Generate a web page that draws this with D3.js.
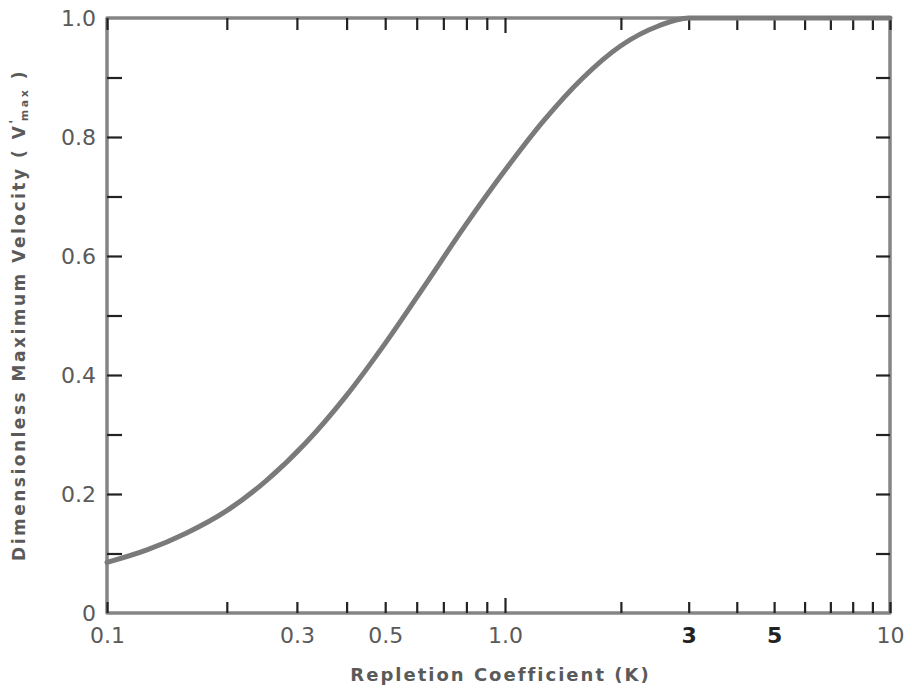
<!DOCTYPE html>
<html>
<head>
<meta charset="utf-8">
<script src="https://cdn.jsdelivr.net/npm/d3@7"></script>
<style>
  html, body { margin: 0; padding: 0; background: #fff; }
  svg { display: block; }
</style>
</head>
<body>
<svg id="chart" width="912" height="695"></svg>
<script>
// ---- data ----
const kValues = [0.1, 0.126, 0.158, 0.2, 0.251, 0.316, 0.398, 0.501, 0.631, 0.794, 1.0, 1.259, 1.585, 1.995, 2.512, 3.0, 5.0, 10];
const vValues = [0.085, 0.106, 0.134, 0.172, 0.222, 0.286, 0.364, 0.454, 0.552, 0.651, 0.744, 0.827, 0.898, 0.953, 0.987, 1.0, 1.0, 1.0];

const xTickValues = [0.1, 0.2, 0.3, 0.4, 0.5, 0.6, 0.7, 0.8, 0.9, 1, 2, 3, 4, 5, 6, 7, 8, 9, 10];
const xLabelValues = [0.1, 0.3, 0.5, 1, 3, 5, 10];
const xLabelTexts = ["0.1", "0.3", "0.5", "1.0", "3", "5", "10"];
const yTickValues = [0, 0.1, 0.2, 0.3, 0.4, 0.5, 0.6, 0.7, 0.8, 0.9, 1.0];
const yLabelValues = [0, 0.2, 0.4, 0.6, 0.8, 1.0];
const yLabelTexts = ["0", "0.2", "0.4", "0.6", "0.8", "1.0"];
const xTitle = "Repletion Coefficient (K)";

(function () {
// ---- layout ----
const pL = 107, pR = 890, pT = 18, pB = 613;
const svg = d3.select("#chart");

const x = d3.scaleLog().domain([0.1, 1, 10]).range([pL, 505, pR]);
const y = d3.scaleLinear().domain([0, 1]).range([pB, pT]);

const tickColor = "#222";
const frameColor = "#858585";
const textColor = "#5a5a5a";
const font = "'DejaVu Sans', sans-serif";

// frame
svg.append("rect")
  .attr("x", pL).attr("y", pT)
  .attr("width", pR - pL).attr("height", pB - pT)
  .attr("fill", "none").attr("stroke", frameColor)
  .attr("stroke-width", 3.5).attr("stroke-linejoin", "round");

function styleTicks(g) {
  g.select(".domain").remove();
  g.selectAll(".tick line").attr("stroke", tickColor).attr("stroke-width", 2.2);
}

// bottom ticks (inward)
svg.append("g").attr("transform", `translate(0,${pB})`)
  .call(d3.axisBottom(x).tickValues(xTickValues).tickFormat("").tickSize(-11))
  .call(styleTicks)
  .call(g => g.selectAll(".tick line").filter(d => d === 1).attr("y2", -15));

// top ticks (inward)
svg.append("g").attr("transform", `translate(0,${pT})`)
  .call(d3.axisTop(x).tickValues(xTickValues).tickFormat("").tickSize(-12))
  .call(styleTicks)
  .call(g => g.selectAll(".tick line").filter(d => d === 1).attr("y2", 15));

// left ticks
svg.append("g").attr("transform", `translate(${pL},0)`)
  .call(d3.axisLeft(y).tickValues(yTickValues.filter(v => v > 0 && v < 1)).tickFormat("").tickSize(-15))
  .call(styleTicks);

// right ticks
svg.append("g").attr("transform", `translate(${pR},0)`)
  .call(d3.axisRight(y).tickValues(yTickValues.filter(v => v > 0 && v < 1)).tickFormat("").tickSize(-14))
  .call(styleTicks);

// x labels
svg.append("g").attr("transform", `translate(0,${pB})`)
  .call(d3.axisBottom(x).tickValues(xLabelValues)
    .tickFormat((d, i) => xLabelTexts[i]).tickSize(0).tickPadding(14))
  .call(g => g.select(".domain").remove())
  .call(g => g.selectAll("text")
    .attr("font-family", font).attr("font-size", 22)
    .attr("fill", (d) => (d === 3 || d === 5) ? "#222" : textColor)
    .attr("font-weight", (d) => (d === 3 || d === 5) ? "bold" : "normal"));

// y labels
svg.append("g").attr("transform", `translate(${pL},0)`)
  .call(d3.axisLeft(y).tickValues(yLabelValues)
    .tickFormat((d, i) => yLabelTexts[i]).tickSize(0).tickPadding(11))
  .call(g => g.select(".domain").remove())
  .call(g => g.selectAll("text")
    .attr("font-family", font).attr("font-size", 22).attr("fill", textColor));

// curve
const line = d3.line()
  .x((d, i) => x(kValues[i]))
  .y((d, i) => y(vValues[i]))
  .curve(d3.curveMonotoneX);

svg.append("path")
  .datum(kValues)
  .attr("d", line)
  .attr("fill", "none")
  .attr("stroke", "#7a7a7a")
  .attr("stroke-width", 5)
  .attr("stroke-linecap", "round");

// x title
svg.append("text")
  .attr("x", (pL + pR) / 2 + 2).attr("y", 681)
  .attr("text-anchor", "middle")
  .attr("font-family", font).attr("font-size", 18).attr("font-weight", "bold")
  .attr("letter-spacing", 2)
  .attr("fill", textColor)
  .text(xTitle);

// y title
const yt = svg.append("text")
  .attr("transform", "translate(25,315) rotate(-90)")
  .attr("text-anchor", "middle")
  .attr("font-family", font).attr("font-size", 17).attr("font-weight", "bold")
  .attr("letter-spacing", 2.5)
  .attr("fill", textColor);
yt.append("tspan").text("Dimensionless  Maximum  Velocity  ( V");
yt.append("tspan").attr("dy", -7).attr("font-size", 13).text("'");
yt.append("tspan").attr("dy", 10).attr("dx", -4).attr("font-size", 11).text("max");
yt.append("tspan").attr("dy", -3).text(" )");
})();
</script>
</body>
</html>
